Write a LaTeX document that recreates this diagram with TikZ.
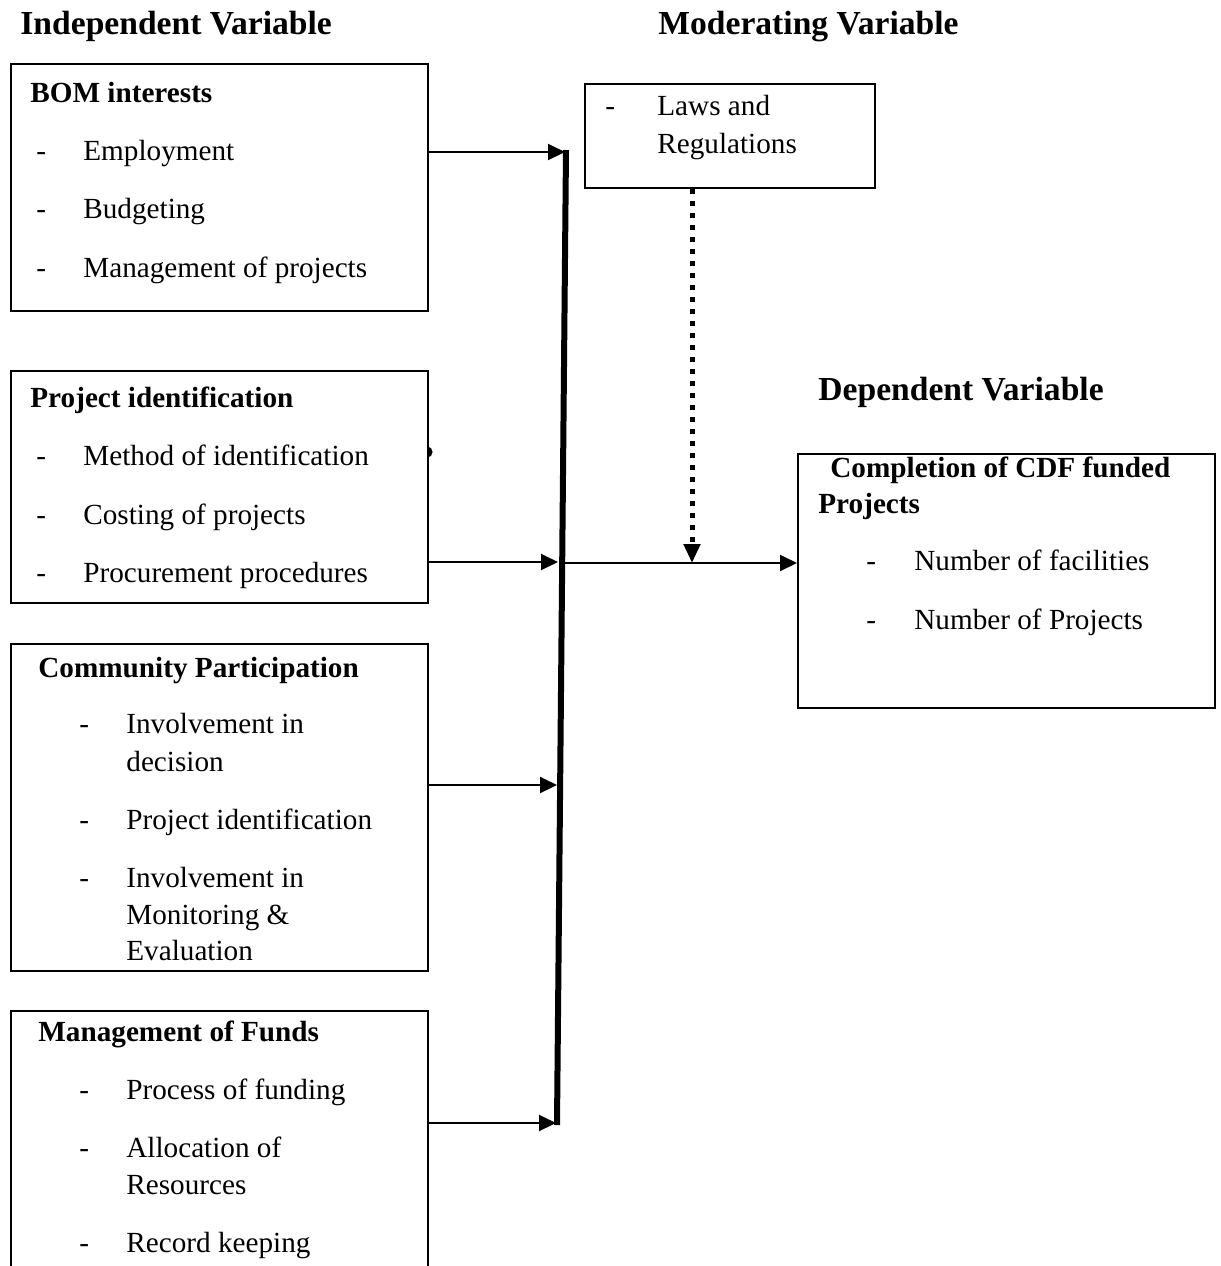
\documentclass[tikz,border=0pt]{standalone}
\usepackage{fontspec}
\setmainfont{Liberation Serif}
\usetikzlibrary{arrows.meta}

\begin{document}
\begin{tikzpicture}[x=0.5pt,y=-0.5pt,
  box/.style={draw,line width=1pt,anchor=north west,inner sep=0pt},
  txt/.style={anchor=base west,inner sep=0pt,font=\fontsize{14.6}{17}\selectfont},
  ttl/.style={anchor=base west,inner sep=0pt,font=\fontsize{14.6}{17}\selectfont\bfseries},
  head/.style={anchor=base west,inner sep=0pt,font=\fontsize{16.8}{20}\selectfont\bfseries},
  arr/.style={line width=1pt,-{Triangle[length=8.5pt,width=8pt]}},
  bar/.style={line width=3pt},
  dotarr/.style={line width=2.5pt,dash pattern=on 2.5pt off 3.5pt,-{Triangle[length=9.5pt,width=8pt]}}]
\useasboundingbox (0,0) rectangle (1221,1266);

% headings
\node[head] (hind) at (20,34) {Independent Variable};
\node[head] (hmod) at (658,34) {Moderating Variable};
\node[head] (hdep) at (818,400) {Dependent Variable};

% boxes
\node[box,minimum width=208.5pt,minimum height=123.5pt] (bom) at (10,63) {};
\node[box,minimum width=208.5pt,minimum height=116pt] (proj) at (10,370) {};
\node[box,minimum width=208.5pt,minimum height=163.5pt] (comm) at (10,643) {};
\node[box,minimum width=208.5pt,minimum height=140pt] (fund) at (10,1010) {};
\node[box,minimum width=145pt,minimum height=52pt] (laws) at (584,83) {};
\node[box,minimum width=208.5pt,minimum height=127pt] (comp) at (797,453) {};

% BOM interests
\node[ttl] (t1) at (30,102) {BOM interests};
\node[txt] (d11) at (36,160) {-};
\node[txt] (i11) at (83,160) {Employment};
\node[txt] (d12) at (36,218) {-};
\node[txt] (i12) at (83,218) {Budgeting};
\node[txt] (d13) at (36,277) {-};
\node[txt] (i13) at (83,277) {Management of projects};

% Project identification
\node[ttl] (t2) at (30,407) {Project identification};
\node[txt] (d21) at (36,465) {-};
\node[txt] (i21) at (83,465) {Method of identification};
\node[txt] (d22) at (36,524) {-};
\node[txt] (i22) at (83,524) {Costing of projects};
\node[txt] (d23) at (36,582) {-};
\node[txt] (i23) at (83,582) {Procurement procedures};

% Community Participation
\node[ttl] (t3) at (38,677) {Community Participation};
\node[txt] (d31) at (79,733) {-};
\node[txt] (i31) at (126,733) {Involvement in};
\node[txt] (i31b) at (126,771) {decision};
\node[txt] (d32) at (79,829) {-};
\node[txt] (i32) at (126,829) {Project identification};
\node[txt] (d33) at (79,887) {-};
\node[txt] (i33) at (126,887) {Involvement in};
\node[txt] (i33b) at (126,924) {Monitoring \&};
\node[txt] (i33c) at (126,960) {Evaluation};

% Management of Funds
\node[ttl] (t4) at (38,1041) {Management of Funds};
\node[txt] (d41) at (79,1099) {-};
\node[txt] (i41) at (126,1099) {Process of funding};
\node[txt] (d42) at (79,1157) {-};
\node[txt] (i42) at (126,1157) {Allocation of};
\node[txt] (i42b) at (126,1194) {Resources};
\node[txt] (d43) at (79,1252) {-};
\node[txt] (i43) at (126,1252) {Record keeping};

% Laws and Regulations
\node[txt] (d51) at (605,115) {-};
\node[txt] (i51) at (657,115) {Laws and};
\node[txt] (i51b) at (657,153) {Regulations};

% Completion of CDF funded Projects
\node[ttl] (t6) at (830,477) {Completion of CDF funded};
\node[ttl] (t6b) at (818,513) {Projects};
\node[txt] (d61) at (866,570) {-};
\node[txt] (i61) at (914,570) {Number of facilities};
\node[txt] (d62) at (866,629) {-};
\node[txt] (i62) at (914,629) {Number of Projects};

% stray mark on the box edge
\begin{scope}
\clip (427,440) rectangle (440,465);
\fill (427,452) circle (2.8pt);
\end{scope}

% joining bar
\coordinate (top) at (566,150);
\coordinate (bot) at (557,1125);
\draw[bar] (top) -- (bot);

\coordinate (p1) at (565,152);
\coordinate (p2) at (558,562);
\coordinate (p3) at (557,785);
\coordinate (p4) at (556,1123);
\draw[arr] (bom.east |- p1) -- (p1);
\draw[arr] (proj.east |- p2) -- (p2);
\draw[arr] (comm.east |- p3) -- (p3);
\draw[arr] (fund.east |- p4) -- (p4);

\coordinate (out) at (563,563);
\coordinate (m) at (692,563);
\draw[arr] (out) -- (comp.west |- out);
\draw[dotarr] (laws.south -| m) -- (m);
\end{tikzpicture}
\end{document}
